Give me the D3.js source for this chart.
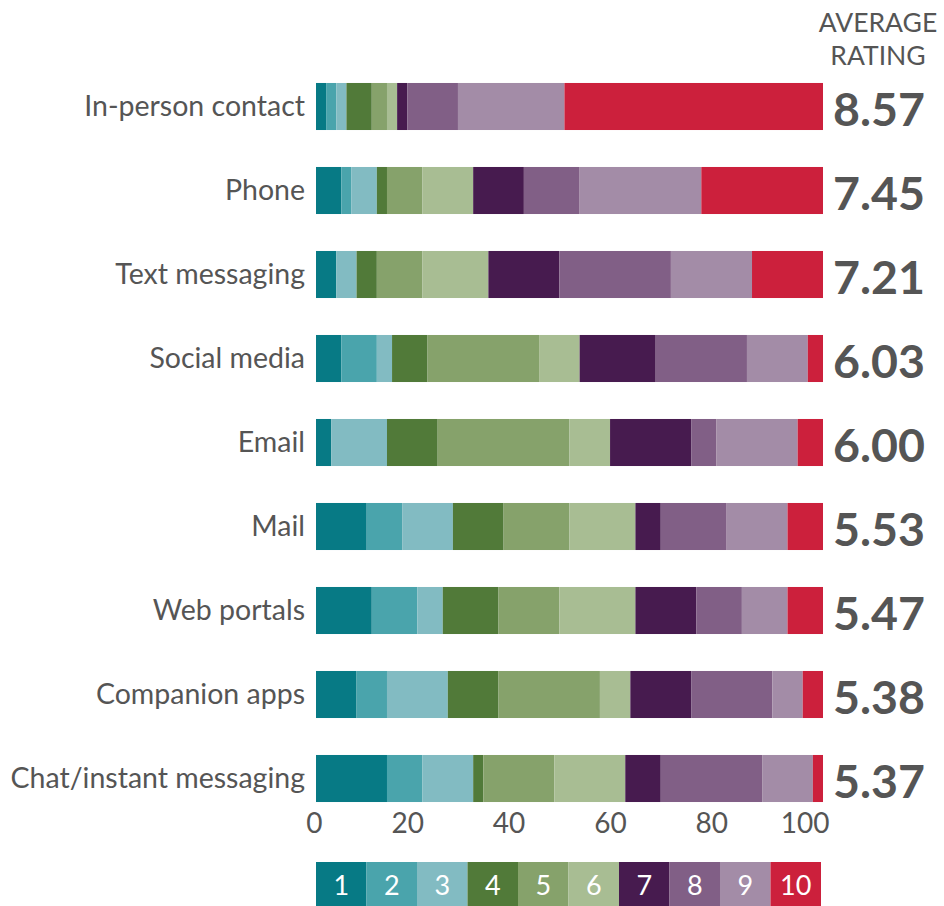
<!DOCTYPE html>
<html>
<head>
<meta charset="utf-8">
<script src="https://cdn.jsdelivr.net/npm/d3@7"></script>
<style>
  body { margin: 0; background: #fff; }
  text { font-family: Lato, "Open Sans", sans-serif; }
</style>
</head>
<body>
<div id="chart"></div>
<script>
// Data
const channels = ["In-person contact", "Phone", "Text messaging", "Social media", "Email",
  "Mail", "Web portals", "Companion apps", "Chat/instant messaging"];
const ratings = ["1", "2", "3", "4", "5", "6", "7", "8", "9", "10"];
const averages = ["8.57", "7.45", "7.21", "6.03", "6.00", "5.53", "5.47", "5.38", "5.37"];

// share (%) of each rating 1..10, one list per channel
const shares = [
  [2, 2, 2, 5, 3, 2, 2, 10, 21, 51],
  [5, 2, 5, 2, 7, 10, 10, 11, 24, 24],
  [4, 0, 4, 4, 9, 13, 14, 22, 16, 14],
  [5, 7, 3, 7, 22, 8, 15, 18, 12, 3],
  [3, 0, 11, 10, 26, 8, 16, 5, 16, 5],
  [10, 7, 10, 10, 13, 13, 5, 13, 12, 7],
  [11, 9, 5, 11, 12, 15, 12, 9, 9, 7],
  [8, 6, 12, 10, 20, 6, 12, 16, 6, 4],
  [14, 7, 10, 2, 14, 14, 7, 20, 10, 2]
];
const xTicks = [0, 20, 40, 60, 80, 100];

const palette = ["#077a85", "#4aa4ac", "#82bbc2", "#517a39", "#86a26b",
  "#a8bd93", "#471b4f", "#815f86", "#a38ca7", "#cc203c"];
const textCol = "#555555";

const width = 944;
const height = 906;

const table = channels.map((c, i) => {
  const row = { channel: c, avg: averages[i] };
  ratings.forEach((r, j) => row[r] = shares[i][j]);
  return row;
});

const series = d3.stack().keys(ratings)(table);

const x = d3.scaleLinear().domain([0, 100]).range([316, 823]);
const y = d3.scaleBand()
  .domain(channels)
  .range([64.5, 820.5])
  .paddingInner(0.44)
  .paddingOuter(0.22);
const colour = d3.scaleOrdinal().domain(ratings).range(palette);

const svg = d3.select("#chart")
  .append("svg")
  .attr("width", width)
  .attr("height", height);

// Stacked bars
svg.append("g")
  .selectAll("g")
  .data(series)
  .enter()
  .append("g")
  .attr("fill", d => colour(d.key))
  .selectAll("rect")
  .data(d => d)
  .enter()
  .append("rect")
  .attr("x", d => x(d[0]))
  .attr("width", d => x(d[1]) - x(d[0]))
  .attr("y", d => y(d.data.channel))
  .attr("height", y.bandwidth());

// Channel labels
svg.append("g")
  .selectAll("text")
  .data(channels)
  .enter()
  .append("text")
  .attr("x", 305)
  .attr("y", d => y(d) + y.bandwidth() / 2)
  .attr("dy", "0.35em")
  .attr("text-anchor", "end")
  .attr("fill", textCol)
  .style("font-size", "28.5px")
  .text(d => d);

// Average ratings
svg.append("g")
  .selectAll("text")
  .data(table)
  .enter()
  .append("text")
  .attr("x", 879)
  .attr("y", d => y(d.channel) + y.bandwidth() / 2 + 19.5)
  .attr("text-anchor", "middle")
  .attr("fill", textCol)
  .style("font-size", "46.5px")
  .style("font-weight", "bold")
  .text(d => d.avg);

const header = svg.append("text")
  .attr("text-anchor", "middle")
  .attr("fill", textCol)
  .style("font-size", "26.5px");
header.append("tspan").attr("x", 878).attr("y", 32).text("AVERAGE");
header.append("tspan").attr("x", 878).attr("y", 65).text("RATING");

// x axis
const xAxis = svg.append("g")
  .attr("transform", `translate(0, ${y.range()[1] - 18})`)
  .call(d3.axisBottom(x).tickValues(xTicks).tickSize(0).tickPadding(0));
xAxis.select(".domain").remove();
xAxis.selectAll("text")
  .attr("text-anchor", "end")
  .attr("dx", 6)
  .attr("y", 0)
  .attr("dy", 30.5)
  .attr("fill", textCol)
  .style("font-family", "Lato, sans-serif")
  .style("font-size", "28px");

// Legend
const lx = d3.scaleBand().domain(ratings).range([316, 821]);
const legend = svg.append("g")
  .selectAll("g")
  .data(ratings)
  .enter()
  .append("g")
  .attr("transform", d => `translate(${lx(d)}, 862)`);

legend.append("rect")
  .attr("width", lx.bandwidth())
  .attr("height", 44)
  .attr("fill", d => colour(d));

legend.append("text")
  .attr("x", lx.bandwidth() / 2)
  .attr("y", 33)
  .attr("text-anchor", "middle")
  .attr("fill", "#ffffff")
  .style("font-size", "27px")
  .text(d => d);
</script>
</body>
</html>
